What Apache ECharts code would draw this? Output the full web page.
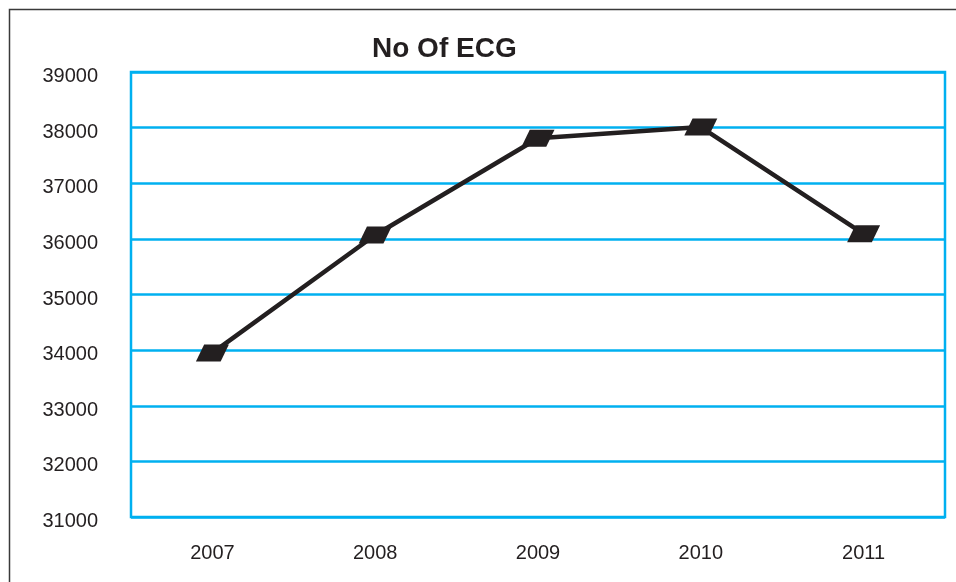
<!DOCTYPE html>
<html>
<head>
<meta charset="utf-8">
<script src="https://cdn.jsdelivr.net/npm/echarts@6/dist/echarts.min.js"></script>
<style>
  html, body { margin: 0; padding: 0; background: #ffffff; }
  #chart { width: 956px; height: 582px; }
</style>
</head>
<body>
<div id="chart"></div>
<script>
// Yearly number of ECG tests
const years = ['2007', '2008', '2009', '2010', '2011'];
const ecgCounts = [33950, 36070, 37810, 38010, 36090];
const yTicks = { min: 31000, max: 39000, step: 1000 };

const textColor = '#231f20';
const gridBlue = '#00b0f0';
const fontFamily = 'Liberation Sans, Arial, sans-serif';

const chart = echarts.init(document.getElementById('chart'), null, { renderer: 'canvas' });

chart.setOption({
  backgroundColor: '#ffffff',
  animation: false,
  title: {
    text: 'No Of ECG',
    left: 367,
    top: 30,
    textStyle: {
      fontFamily: fontFamily,
      fontWeight: 'bold',
      fontSize: 28,
      color: textColor
    }
  },
  graphic: [{
    type: 'rect',
    left: 7,
    top: 7,
    shape: { width: 1000, height: 1000 },
    style: { fill: 'none', stroke: '#3a3a3a', lineWidth: 1.5 },
    silent: true,
    z: -10
  }],
  grid: {
    left: 131,
    right: 11,
    top: 72,
    bottom: 65,
    show: true,
    borderColor: gridBlue,
    borderWidth: 2.5,
    backgroundColor: 'transparent'
  },
  xAxis: {
    type: 'category',
    data: years,
    boundaryGap: true,
    axisLine: { show: false },
    axisTick: { show: false },
    axisLabel: {
      margin: 26,
      fontFamily: fontFamily,
      fontSize: 20,
      color: textColor
    }
  },
  yAxis: {
    type: 'value',
    min: yTicks.min,
    max: yTicks.max,
    interval: yTicks.step,
    axisLine: { show: false },
    axisTick: { show: false },
    splitLine: { show: true, lineStyle: { color: gridBlue, width: 2.5 } },
    axisLabel: {
      margin: 33,
      formatter: function (v) { return '{v|' + String(v) + '}'; },
      rich: {
        v: {
          padding: [9, 0, 0, 0],
          fontFamily: fontFamily,
          fontSize: 20,
          color: textColor
        }
      }
    }
  },
  series: [{
    type: 'line',
    data: ecgCounts,
    lineStyle: { color: textColor, width: 4.5 },
    itemStyle: { color: textColor, borderWidth: 0 },
    symbol: 'path://M8,0 L32,0 L24,17 L0,17 Z',
    symbolSize: [33, 17],
    showSymbol: true,
    z: 5
  }]
});
</script>
</body>
</html>
